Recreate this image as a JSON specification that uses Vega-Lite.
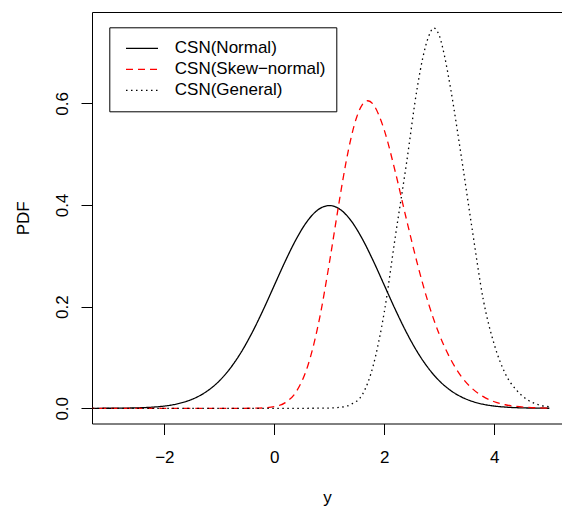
{
  "$schema": "https://vega.github.io/schema/vega-lite/v6.json",
  "autosize": {"type": "none"},
  "padding": {"left": 92, "top": 12, "right": 0, "bottom": 83.5},
  "width": 470,
  "height": 411.5,
  "background": "white",
  "config": {"font": "Liberation Sans", "view": {"stroke": null}},
  "data": {"values": [
    {"s": "CSN(Normal)", "x": -3.4, "p": 0.0},
    {"s": "CSN(Normal)", "x": -3.0, "p": 0.0001},
    {"s": "CSN(Normal)", "x": -2.8, "p": 0.0003},
    {"s": "CSN(Normal)", "x": -2.6, "p": 0.0006},
    {"s": "CSN(Normal)", "x": -2.4, "p": 0.0012},
    {"s": "CSN(Normal)", "x": -2.2, "p": 0.0024},
    {"s": "CSN(Normal)", "x": -2.0, "p": 0.0044},
    {"s": "CSN(Normal)", "x": -1.8, "p": 0.0079},
    {"s": "CSN(Normal)", "x": -1.6, "p": 0.0136},
    {"s": "CSN(Normal)", "x": -1.4, "p": 0.0224},
    {"s": "CSN(Normal)", "x": -1.2, "p": 0.0355},
    {"s": "CSN(Normal)", "x": -1.0, "p": 0.0540},
    {"s": "CSN(Normal)", "x": -0.8, "p": 0.0790},
    {"s": "CSN(Normal)", "x": -0.6, "p": 0.1109},
    {"s": "CSN(Normal)", "x": -0.4, "p": 0.1497},
    {"s": "CSN(Normal)", "x": -0.2, "p": 0.1942},
    {"s": "CSN(Normal)", "x": 0.0, "p": 0.2420},
    {"s": "CSN(Normal)", "x": 0.2, "p": 0.2897},
    {"s": "CSN(Normal)", "x": 0.4, "p": 0.3332},
    {"s": "CSN(Normal)", "x": 0.6, "p": 0.3683},
    {"s": "CSN(Normal)", "x": 0.8, "p": 0.3910},
    {"s": "CSN(Normal)", "x": 1.0, "p": 0.3989},
    {"s": "CSN(Normal)", "x": 1.2, "p": 0.3910},
    {"s": "CSN(Normal)", "x": 1.4, "p": 0.3683},
    {"s": "CSN(Normal)", "x": 1.6, "p": 0.3332},
    {"s": "CSN(Normal)", "x": 1.8, "p": 0.2897},
    {"s": "CSN(Normal)", "x": 2.0, "p": 0.2420},
    {"s": "CSN(Normal)", "x": 2.2, "p": 0.1942},
    {"s": "CSN(Normal)", "x": 2.4, "p": 0.1497},
    {"s": "CSN(Normal)", "x": 2.6, "p": 0.1109},
    {"s": "CSN(Normal)", "x": 2.8, "p": 0.0790},
    {"s": "CSN(Normal)", "x": 3.0, "p": 0.0540},
    {"s": "CSN(Normal)", "x": 3.2, "p": 0.0355},
    {"s": "CSN(Normal)", "x": 3.4, "p": 0.0224},
    {"s": "CSN(Normal)", "x": 3.6, "p": 0.0136},
    {"s": "CSN(Normal)", "x": 3.8, "p": 0.0079},
    {"s": "CSN(Normal)", "x": 4.0, "p": 0.0044},
    {"s": "CSN(Normal)", "x": 4.2, "p": 0.0024},
    {"s": "CSN(Normal)", "x": 4.4, "p": 0.0012},
    {"s": "CSN(Normal)", "x": 4.6, "p": 0.0006},
    {"s": "CSN(Normal)", "x": 4.8, "p": 0.0003},
    {"s": "CSN(Normal)", "x": 5.0, "p": 0.0001},

    {"s": "CSN(Skew−normal)", "x": -3.4, "p": 0.0},
    {"s": "CSN(Skew−normal)", "x": -2.0, "p": 0.0},
    {"s": "CSN(Skew−normal)", "x": -1.0, "p": 0.0},
    {"s": "CSN(Skew−normal)", "x": -0.4, "p": 0.0001},
    {"s": "CSN(Skew−normal)", "x": -0.2, "p": 0.0007},
    {"s": "CSN(Skew−normal)", "x": 0.0, "p": 0.0032},
    {"s": "CSN(Skew−normal)", "x": 0.2, "p": 0.0112},
    {"s": "CSN(Skew−normal)", "x": 0.4, "p": 0.0330},
    {"s": "CSN(Skew−normal)", "x": 0.6, "p": 0.0808},
    {"s": "CSN(Skew−normal)", "x": 0.8, "p": 0.1653},
    {"s": "CSN(Skew−normal)", "x": 1.0, "p": 0.2857},
    {"s": "CSN(Skew−normal)", "x": 1.1, "p": 0.3531},
    {"s": "CSN(Skew−normal)", "x": 1.2, "p": 0.4202},
    {"s": "CSN(Skew−normal)", "x": 1.3, "p": 0.4822},
    {"s": "CSN(Skew−normal)", "x": 1.4, "p": 0.5345},
    {"s": "CSN(Skew−normal)", "x": 1.5, "p": 0.5736},
    {"s": "CSN(Skew−normal)", "x": 1.6, "p": 0.5975},
    {"s": "CSN(Skew−normal)", "x": 1.7, "p": 0.6051},
    {"s": "CSN(Skew−normal)", "x": 1.8, "p": 0.5977},
    {"s": "CSN(Skew−normal)", "x": 1.9, "p": 0.5770},
    {"s": "CSN(Skew−normal)", "x": 2.0, "p": 0.5469},
    {"s": "CSN(Skew−normal)", "x": 2.2, "p": 0.4648},
    {"s": "CSN(Skew−normal)", "x": 2.4, "p": 0.3727},
    {"s": "CSN(Skew−normal)", "x": 2.6, "p": 0.2846},
    {"s": "CSN(Skew−normal)", "x": 2.8, "p": 0.2072},
    {"s": "CSN(Skew−normal)", "x": 3.0, "p": 0.1451},
    {"s": "CSN(Skew−normal)", "x": 3.2, "p": 0.0976},
    {"s": "CSN(Skew−normal)", "x": 3.4, "p": 0.0625},
    {"s": "CSN(Skew−normal)", "x": 3.6, "p": 0.0386},
    {"s": "CSN(Skew−normal)", "x": 3.8, "p": 0.0229},
    {"s": "CSN(Skew−normal)", "x": 4.0, "p": 0.0129},
    {"s": "CSN(Skew−normal)", "x": 4.2, "p": 0.0070},
    {"s": "CSN(Skew−normal)", "x": 4.4, "p": 0.0036},
    {"s": "CSN(Skew−normal)", "x": 4.6, "p": 0.0018},
    {"s": "CSN(Skew−normal)", "x": 4.8, "p": 0.0009},
    {"s": "CSN(Skew−normal)", "x": 5.0, "p": 0.0004},

    {"s": "CSN(General)", "x": -3.4, "p": 0.0},
    {"s": "CSN(General)", "x": -1.0, "p": 0.0},
    {"s": "CSN(General)", "x": 0.4, "p": 0.0},
    {"s": "CSN(General)", "x": 0.8, "p": 0.0002},
    {"s": "CSN(General)", "x": 1.0, "p": 0.0005},
    {"s": "CSN(General)", "x": 1.2, "p": 0.002},
    {"s": "CSN(General)", "x": 1.4, "p": 0.008},
    {"s": "CSN(General)", "x": 1.6, "p": 0.027},
    {"s": "CSN(General)", "x": 1.8, "p": 0.085},
    {"s": "CSN(General)", "x": 2.0, "p": 0.19},
    {"s": "CSN(General)", "x": 2.2, "p": 0.338},
    {"s": "CSN(General)", "x": 2.4, "p": 0.48},
    {"s": "CSN(General)", "x": 2.6, "p": 0.632},
    {"s": "CSN(General)", "x": 2.7, "p": 0.69},
    {"s": "CSN(General)", "x": 2.8, "p": 0.73},
    {"s": "CSN(General)", "x": 2.9, "p": 0.748},
    {"s": "CSN(General)", "x": 3.0, "p": 0.733},
    {"s": "CSN(General)", "x": 3.1, "p": 0.69},
    {"s": "CSN(General)", "x": 3.2, "p": 0.632},
    {"s": "CSN(General)", "x": 3.4, "p": 0.495},
    {"s": "CSN(General)", "x": 3.6, "p": 0.35},
    {"s": "CSN(General)", "x": 3.8, "p": 0.213},
    {"s": "CSN(General)", "x": 4.0, "p": 0.125},
    {"s": "CSN(General)", "x": 4.2, "p": 0.068},
    {"s": "CSN(General)", "x": 4.4, "p": 0.036},
    {"s": "CSN(General)", "x": 4.6, "p": 0.017},
    {"s": "CSN(General)", "x": 4.8, "p": 0.007},
    {"s": "CSN(General)", "x": 5.0, "p": 0.003}
  ]},
  "resolve": {"axis": {"x": "independent"}},
  "layer": [
    {
      "mark": {"type": "line", "interpolate": "monotone", "strokeWidth": 1.3, "clip": true},
      "encoding": {
        "x": {"field": "x", "type": "quantitative",
          "scale": {"domain": [-3.315, 5.23], "nice": false, "zero": false},
          "axis": {"orient": "bottom", "values": [-2, 0, 2, 4], "format": "d", "grid": false,
            "domain": true, "domainColor": "black", "domainWidth": 1,
            "ticks": true, "tickColor": "black", "tickSize": 11, "tickWidth": 1,
            "labelFontSize": 17, "labelColor": "black", "labelPadding": 15, "labelFlush": false,
            "title": "y", "titleFontSize": 17, "titleFontWeight": "normal", "titleColor": "black",
            "titleBaseline": "alphabetic", "titleY": 78.5}},
        "y": {"field": "p", "type": "quantitative",
          "scale": {"domain": [-0.0299, 0.7797], "nice": false, "zero": false},
          "axis": {"values": [0, 0.2, 0.4, 0.6], "format": ".1f", "grid": false,
            "domain": true, "domainColor": "black", "domainWidth": 1,
            "ticks": true, "tickColor": "black", "tickSize": 11, "tickWidth": 1,
            "labelFontSize": 17, "labelColor": "black", "labelPadding": 13.7, "labelAngle": 270,
            "labelAlign": "center", "labelBaseline": "alphabetic", "labelFlush": false,
            "title": "PDF", "titleFontSize": 17, "titleFontWeight": "normal", "titleColor": "black",
            "titleAngle": 270, "titleAlign": "center", "titleBaseline": "alphabetic",
            "titleX": -63.5, "titleY": 205.75}},
        "color": {"field": "s", "type": "nominal", "sort": null,
          "scale": {"domain": ["CSN(Normal)", "CSN(Skew−normal)", "CSN(General)"], "range": ["black", "red", "black"]},
          "legend": {"orient": "none", "legendX": 17.3, "legendY": 15.3, "title": null,
            "symbolType": "stroke", "symbolSize": 1024, "symbolStrokeWidth": 1.3,
            "labelFontSize": 17, "labelColor": "black", "padding": 10.5, "symbolOffset": 5.2,
            "labelOffset": 15.8, "clipHeight": 21, "rowPadding": 0,
            "strokeColor": "black", "fillColor": "white"}},
        "strokeDash": {"field": "s", "type": "nominal", "sort": null,
          "scale": {"domain": ["CSN(Normal)", "CSN(Skew−normal)", "CSN(General)"], "range": [[1, 0], [7, 5], [1.5, 3.5]]},
          "legend": {"orient": "none", "legendX": 17.3, "legendY": 15.3, "title": null,
            "symbolType": "stroke", "symbolSize": 1024, "symbolStrokeWidth": 1.3,
            "labelFontSize": 17, "labelColor": "black", "padding": 10.5, "symbolOffset": 5.2,
            "labelOffset": 15.8, "clipHeight": 21, "rowPadding": 0,
            "strokeColor": "black", "fillColor": "white"}}
      }
    },
    {
      "mark": {"type": "rule", "opacity": 0},
      "encoding": {
        "x": {"field": "x", "type": "quantitative",
          "scale": {"domain": [-3.315, 5.23], "nice": false, "zero": false},
          "axis": {"orient": "top", "labels": false, "ticks": false, "grid": false, "title": null,
            "domain": true, "domainColor": "black", "domainWidth": 1}}
      }
    }
  ]
}
